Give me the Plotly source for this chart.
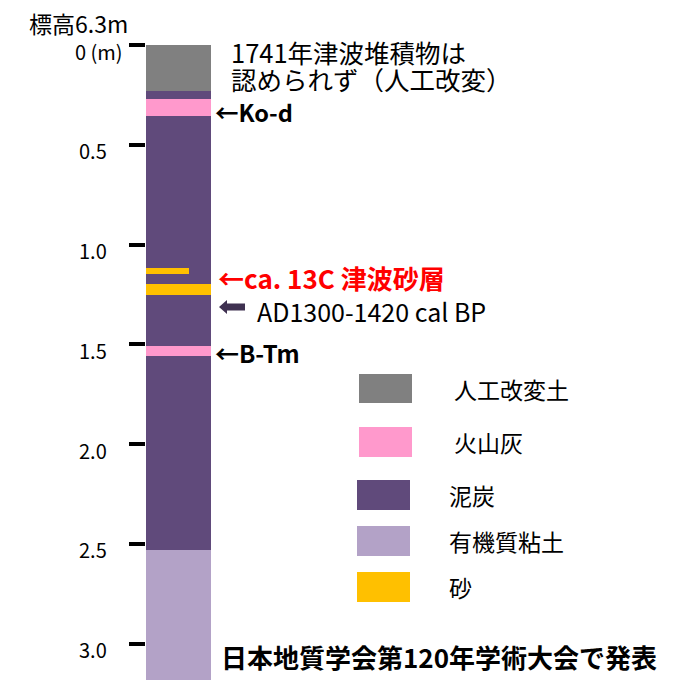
import plotly.graph_objects as go

# ---- data ----
unit_names = ["人工改変土", "泥炭", "有機質粘土"]
unit_top = [0.0, 0.23, 2.531]
unit_bottom = [0.23, 2.531, 3.2]

overlay_names = ["火山灰", "砂", "砂", "火山灰"]
overlay_top = [0.27, 1.118, 1.196, 1.509]
overlay_bottom = [0.355, 1.146, 1.253, 1.559]
overlay_frac = [1.0, 0.66, 1.0, 1.0]   # fraction of column width

tick_vals = [0, 0.5, 1.0, 1.5, 2.0, 2.5, 3.0]
tick_text = ["0 (m)", "0.5", "1.0", "1.5", "2.0", "2.5", "3.0"]

legend_names = ["人工改変土", "火山灰", "泥炭", "有機質粘土", "砂"]
colors = {
    "人工改変土": "#808080",
    "火山灰": "#FF99CC",
    "泥炭": "#604A7B",
    "有機質粘土": "#B3A2C7",
    "砂": "#FFC000",
}

FONT = "Noto Sans CJK JP, Noto Sans, sans-serif"

# ---- layout geometry (page pixels; page body has 8px margin) ----
PAGE_OFF = 8
W, H = 667, 672
L, T = 138, 37
PLOT_W = W - L
PLOT_H = H - T
COLW = 65.0          # column width in px -> 1 data unit in x
PXM = 199.5          # px per metre
XMAX = PLOT_W / COLW
YMAX = PLOT_H / PXM


def px2x(px):
    return (px - PAGE_OFF - L) / COLW


def py2y(py):
    return (py - PAGE_OFF - T) / PXM


def px2p(px):
    return (px - PAGE_OFF - L) / PLOT_W


def py2p(py):
    return 1 - (py - PAGE_OFF - T) / PLOT_H


fig = go.Figure()

for n, t, b in zip(unit_names, unit_top, unit_bottom):
    fig.add_trace(go.Bar(x=[0.5], y=[b - t], base=[t], width=[1.0],
                         marker=dict(color=colors[n], line=dict(width=0)),
                         showlegend=False, hoverinfo="skip"))

for n, t, b, f in zip(overlay_names, overlay_top, overlay_bottom, overlay_frac):
    fig.add_trace(go.Bar(x=[f / 2], y=[b - t], base=[t], width=[f],
                         marker=dict(color=colors[n], line=dict(width=0)),
                         showlegend=False, hoverinfo="skip"))

shapes = []
annotations = []


def txt(text, px, py, size, color="black", anchor="left"):
    annotations.append(dict(x=px2p(px), y=py2p(py), xref="paper", yref="paper", text=text,
                            showarrow=False, xanchor=anchor, yanchor="middle",
                            font=dict(family=FONT, size=size, color=color)))


# legend swatches and labels
sw = [(359, 412, 374, 403, 452), (359, 412, 427, 457, 452), (357, 410, 480, 510, 447),
      (357, 410, 526, 556, 447), (357, 410, 572, 602, 447)]
for name, (x0, x1, y0, y1, tx) in zip(legend_names, sw):
    shapes.append(dict(type="rect", xref="x", yref="y", x0=px2x(x0), x1=px2x(x1),
                       y0=py2y(y0), y1=py2y(y1), fillcolor=colors[name],
                       line=dict(width=0), layer="above"))
    txt(name, tx, (y0 + y1) / 2, 23)

# block arrow for AD date
ax0, axh, ax1 = 219, 227, 245
ayc = 307
arrow_path = (f"M {px2x(ax0)},{py2y(ayc)} L {px2x(axh)},{py2y(ayc-7)} L {px2x(axh)},{py2y(ayc-3.5)} "
              f"L {px2x(ax1)},{py2y(ayc-3.5)} L {px2x(ax1)},{py2y(ayc+3.5)} L {px2x(axh)},{py2y(ayc+3.5)} "
              f"L {px2x(axh)},{py2y(ayc+7)} Z")
shapes.append(dict(type="path", xref="x", yref="y", path=arrow_path,
                   fillcolor="#3F3151", line=dict(width=0)))

# tick labels (values from tick arrays), slightly below the tick marks
for v, s in zip(tick_vals, tick_text):
    right = 125 if "(" in s else 109
    annotations.append(dict(x=px2p(right), y=v, xref="paper", yref="y", yshift=-6,
                            text=s, showarrow=False, xanchor="right", yanchor="middle",
                            font=dict(family=FONT, size=20, color="black")))

txt("標高6.3m", 27, 23, 23)
txt("1741年津波堆積物は", 229, 52, 25.5)
txt("認められず（人工改変）", 229, 78, 25.5)
txt("<b>←Ko-d</b>", 213, 112, 23.5)
txt("<b>←ca. 13C 津波砂層</b>", 216, 278, 26, color="#FF0000")
txt("AD1300-1420 cal BP", 255, 311, 25)
txt("<b>←B-Tm</b>", 213, 352, 24)
txt("<b>日本地質学会第120年学術大会で発表</b>", 219, 656, 26)

fig.update_layout(
    width=W, height=H,
    margin=dict(l=L, r=0, t=T, b=0),
    paper_bgcolor="white", plot_bgcolor="white",
    barmode="overlay", bargap=0,
    showlegend=False,
    shapes=shapes, annotations=annotations,
    xaxis=dict(range=[0, XMAX], visible=False, fixedrange=True),
    yaxis=dict(range=[YMAX, 0], tickmode="array", tickvals=tick_vals, ticktext=tick_text,
               showticklabels=False,
               ticks="outside", ticklen=16, tickwidth=4, tickcolor="black",
               showgrid=False, zeroline=False, showline=False, fixedrange=True),
    font=dict(family=FONT),
)

fig.write_html("out.html")
